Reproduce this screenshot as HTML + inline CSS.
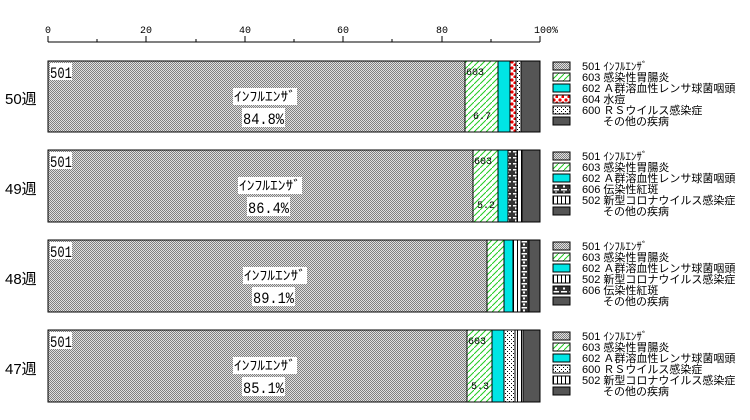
<!DOCTYPE html>
<html><head><meta charset="utf-8"><style>
body{margin:0;background:#fff;}
svg{display:block;font-family:"Liberation Sans","Noto Sans CJK JP",sans-serif;}
.m{font-family:"Liberation Mono","Noto Sans CJK JP",monospace;}
</style></head><body>
<svg width="750" height="420" viewBox="0 0 750 420" xmlns="http://www.w3.org/2000/svg">
<defs>
<pattern id="chk" width="2" height="2" patternUnits="userSpaceOnUse"><rect width="2" height="2" fill="#e0e0e0"/><rect width="1" height="1" fill="#808080"/><rect x="1" y="1" width="1" height="1" fill="#808080"/></pattern>
<pattern id="hat" width="6" height="6" patternUnits="userSpaceOnUse"><rect width="6" height="6" fill="#fff"/><path d="M0 6L6 0" stroke="#2c2" stroke-width="1"/></pattern>
<pattern id="dot" width="4" height="4" patternUnits="userSpaceOnUse"><rect width="4" height="4" fill="#fff"/><rect x="1" y="1" width="1" height="1" fill="#000"/><rect x="3" y="3" width="1" height="1" fill="#000"/></pattern>
<pattern id="red" width="6" height="6" patternUnits="userSpaceOnUse"><rect width="6" height="6" fill="#fff"/><circle cx="2" cy="2" r="1.6" fill="#e00"/><circle cx="5" cy="5" r="1.6" fill="#e00"/></pattern>
<pattern id="brk" width="8" height="6" patternUnits="userSpaceOnUse"><rect width="8" height="6" fill="#333"/><rect x="1" y="1" width="6" height="1.5" fill="#fff"/><rect x="3" y="3.5" width="2" height="2" fill="#fff"/></pattern>
<pattern id="vl" width="4" height="4" patternUnits="userSpaceOnUse"><rect width="4" height="4" fill="#fff"/><rect x="1" width="1" height="4" fill="#000"/></pattern>
</defs>
<g font-size="10" fill="#000">
<line x1="48" y1="42" x2="540" y2="42" stroke="#000"/>
<g stroke="#000">
<line x1="48" y1="36" x2="48" y2="42"/><line x1="97" y1="39" x2="97" y2="42"/><line x1="146" y1="36" x2="146" y2="42"/><line x1="196" y1="39" x2="196" y2="42"/><line x1="245" y1="36" x2="245" y2="42"/><line x1="294" y1="39" x2="294" y2="42"/><line x1="343" y1="36" x2="343" y2="42"/><line x1="392" y1="39" x2="392" y2="42"/><line x1="442" y1="36" x2="442" y2="42"/><line x1="491" y1="39" x2="491" y2="42"/><line x1="540" y1="36" x2="540" y2="42"/>
</g>
<g class="m">
<text x="48" y="33" text-anchor="middle">0</text><text x="146" y="33" text-anchor="middle">20</text><text x="245" y="33" text-anchor="middle">40</text><text x="343" y="33" text-anchor="middle">60</text><text x="442" y="33" text-anchor="middle">80</text><text x="546" y="33" text-anchor="middle">100%</text>
</g>
</g>

<g stroke="#000" stroke-width="1">
<rect x="48" y="61" width="417" height="71" fill="url(#chk)"/>
<rect x="465" y="61" width="33" height="71" fill="url(#hat)"/>
<rect x="498" y="61" width="12" height="71" fill="#00e5e5"/>
<rect x="510" y="61" width="6" height="71" fill="url(#red)"/>
<rect x="516" y="61" width="5" height="71" fill="url(#dot)"/>
<rect x="521" y="61" width="19" height="71" fill="#555"/>

<rect x="48" y="150" width="425" height="72" fill="url(#chk)"/>
<rect x="473" y="150" width="25" height="72" fill="url(#hat)"/>
<rect x="498" y="150" width="10" height="72" fill="#00e5e5"/>
<rect x="508" y="150" width="9" height="72" fill="url(#brk)"/>
<rect x="517" y="150" width="5" height="72" fill="url(#vl)"/>
<rect x="522" y="150" width="18" height="72" fill="#555"/>

<rect x="48" y="240" width="439" height="72" fill="url(#chk)"/>
<rect x="487" y="240" width="17" height="72" fill="url(#hat)"/>
<rect x="504" y="240" width="9" height="72" fill="#00e5e5"/>
<rect x="513" y="240" width="8" height="72" fill="url(#vl)"/>
<rect x="521" y="240" width="8" height="72" fill="url(#brk)"/>
<rect x="529" y="240" width="11" height="72" fill="#555"/>

<rect x="48" y="330" width="419" height="72" fill="url(#chk)"/>
<rect x="467" y="330" width="25" height="72" fill="url(#hat)"/>
<rect x="492" y="330" width="12" height="72" fill="#00e5e5"/>
<rect x="504" y="330" width="11" height="72" fill="url(#dot)"/>
<rect x="515" y="330" width="8" height="72" fill="url(#vl)"/>
<rect x="523" y="330" width="17" height="72" fill="#555"/>
</g>

<g font-size="15">
<text x="5" y="104">50週</text><text x="5" y="194">49週</text><text x="5" y="284">48週</text><text x="5" y="374">47週</text>
</g>
<g class="m">
<rect x="50" y="63" width="22" height="17" fill="#fff"/><text x="50" y="78" font-size="16" textLength="22" lengthAdjust="spacingAndGlyphs">501</text>
<rect x="50" y="152" width="22" height="17" fill="#fff"/><text x="50" y="167" font-size="16" textLength="22" lengthAdjust="spacingAndGlyphs">501</text>
<rect x="50" y="242" width="22" height="17" fill="#fff"/><text x="50" y="257" font-size="16" textLength="22" lengthAdjust="spacingAndGlyphs">501</text>
<rect x="50" y="332" width="22" height="17" fill="#fff"/><text x="50" y="347" font-size="16" textLength="22" lengthAdjust="spacingAndGlyphs">501</text>

<rect x="233" y="88" width="64" height="17" fill="#fff"/><text x="234" y="101" font-size="13" textLength="62" lengthAdjust="spacingAndGlyphs">ｲﾝﾌﾙｴﾝｻﾞ</text>
<rect x="242" y="108" width="43" height="19" fill="#fff"/><text x="243" y="124" font-size="16" textLength="41" lengthAdjust="spacingAndGlyphs">84.8%</text>
<rect x="238" y="177" width="64" height="17" fill="#fff"/><text x="239" y="190" font-size="13" textLength="62" lengthAdjust="spacingAndGlyphs">ｲﾝﾌﾙｴﾝｻﾞ</text>
<rect x="247" y="197" width="43" height="19" fill="#fff"/><text x="248" y="213" font-size="16" textLength="41" lengthAdjust="spacingAndGlyphs">86.4%</text>
<rect x="243" y="267" width="64" height="17" fill="#fff"/><text x="244" y="280" font-size="13" textLength="62" lengthAdjust="spacingAndGlyphs">ｲﾝﾌﾙｴﾝｻﾞ</text>
<rect x="252" y="287" width="43" height="19" fill="#fff"/><text x="253" y="303" font-size="16" textLength="41" lengthAdjust="spacingAndGlyphs">89.1%</text>
<rect x="233" y="357" width="64" height="17" fill="#fff"/><text x="234" y="370" font-size="13" textLength="62" lengthAdjust="spacingAndGlyphs">ｲﾝﾌﾙｴﾝｻﾞ</text>
<rect x="242" y="377" width="43" height="19" fill="#fff"/><text x="243" y="393" font-size="16" textLength="41" lengthAdjust="spacingAndGlyphs">85.1%</text>

<g font-size="10">
<text x="466" y="75">603</text><text x="473" y="119">6.7</text>
<text x="474" y="164">603</text><text x="477" y="208">5.2</text>
<text x="468" y="344">603</text><text x="471" y="389">5.3</text>
</g>
</g>

<g font-size="11" stroke-width="1">
<g transform="translate(0,62)">
<rect x="553" y="0" width="17" height="8" fill="url(#chk)" stroke="#000"/><text x="582" y="8">501 ｲﾝﾌﾙｴﾝｻﾞ</text>
<rect x="553" y="11" width="17" height="8" fill="url(#hat)" stroke="#000"/><text x="582" y="19">603 感染性胃腸炎</text>
<rect x="553" y="22" width="17" height="8" fill="#00e5e5" stroke="#000"/><text x="582" y="30">602 Ａ群溶血性レンサ球菌咽頭</text>
<rect x="553" y="33" width="17" height="8" fill="url(#red)" stroke="#000"/><text x="582" y="41">604 水痘</text>
<rect x="553" y="44" width="17" height="8" fill="url(#dot)" stroke="#000"/><text x="582" y="52">600 ＲＳウイルス感染症</text>
<rect x="553" y="55" width="17" height="8" fill="#555" stroke="#000"/><text x="603" y="63">その他の疾病</text>
</g>
<g transform="translate(0,152)">
<rect x="553" y="0" width="17" height="8" fill="url(#chk)" stroke="#000"/><text x="582" y="8">501 ｲﾝﾌﾙｴﾝｻﾞ</text>
<rect x="553" y="11" width="17" height="8" fill="url(#hat)" stroke="#000"/><text x="582" y="19">603 感染性胃腸炎</text>
<rect x="553" y="22" width="17" height="8" fill="#00e5e5" stroke="#000"/><text x="582" y="30">602 Ａ群溶血性レンサ球菌咽頭</text>
<rect x="553" y="33" width="17" height="8" fill="url(#brk)" stroke="#000"/><text x="582" y="41">606 伝染性紅斑</text>
<rect x="553" y="44" width="17" height="8" fill="url(#vl)" stroke="#000"/><text x="582" y="52">502 新型コロナウイルス感染症</text>
<rect x="553" y="55" width="17" height="8" fill="#555" stroke="#000"/><text x="603" y="63">その他の疾病</text>
</g>
<g transform="translate(0,242)">
<rect x="553" y="0" width="17" height="8" fill="url(#chk)" stroke="#000"/><text x="582" y="8">501 ｲﾝﾌﾙｴﾝｻﾞ</text>
<rect x="553" y="11" width="17" height="8" fill="url(#hat)" stroke="#000"/><text x="582" y="19">603 感染性胃腸炎</text>
<rect x="553" y="22" width="17" height="8" fill="#00e5e5" stroke="#000"/><text x="582" y="30">602 Ａ群溶血性レンサ球菌咽頭</text>
<rect x="553" y="33" width="17" height="8" fill="url(#vl)" stroke="#000"/><text x="582" y="41">502 新型コロナウイルス感染症</text>
<rect x="553" y="44" width="17" height="8" fill="url(#brk)" stroke="#000"/><text x="582" y="52">606 伝染性紅斑</text>
<rect x="553" y="55" width="17" height="8" fill="#555" stroke="#000"/><text x="603" y="63">その他の疾病</text>
</g>
<g transform="translate(0,332)">
<rect x="553" y="0" width="17" height="8" fill="url(#chk)" stroke="#000"/><text x="582" y="8">501 ｲﾝﾌﾙｴﾝｻﾞ</text>
<rect x="553" y="11" width="17" height="8" fill="url(#hat)" stroke="#000"/><text x="582" y="19">603 感染性胃腸炎</text>
<rect x="553" y="22" width="17" height="8" fill="#00e5e5" stroke="#000"/><text x="582" y="30">602 Ａ群溶血性レンサ球菌咽頭</text>
<rect x="553" y="33" width="17" height="8" fill="url(#dot)" stroke="#000"/><text x="582" y="41">600 ＲＳウイルス感染症</text>
<rect x="553" y="44" width="17" height="8" fill="url(#vl)" stroke="#000"/><text x="582" y="52">502 新型コロナウイルス感染症</text>
<rect x="553" y="55" width="17" height="8" fill="#555" stroke="#000"/><text x="603" y="63">その他の疾病</text>
</g>
</g>
</svg>
</body></html>
